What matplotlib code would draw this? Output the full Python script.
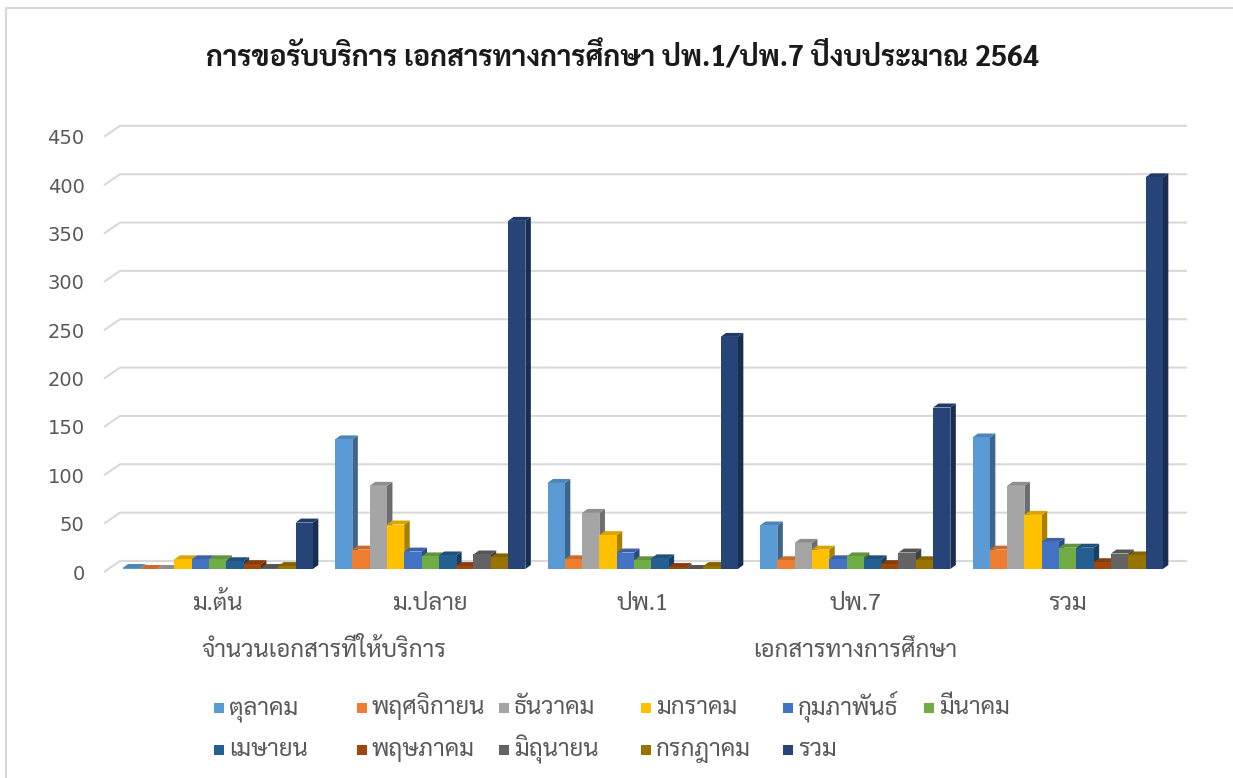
import matplotlib
matplotlib.use('Agg')
import matplotlib.pyplot as plt
from matplotlib import font_manager
from matplotlib.patches import Rectangle
import matplotlib.transforms as mtransforms
import numpy as np

# data
categories = ['ม.ต้น', 'ม.ปลาย', 'ปพ.1', 'ปพ.7', 'รวม']
group_labels = ['จำนวนเอกสารที่ให้บริการ', 'เอกสารทางการศึกษา']
group_span = [(0, 1), (2, 4)]
months = ['ตุลาคม', 'พฤศจิกายน', 'ธันวาคม', 'มกราคม', 'กุมภาพันธ์', 'มีนาคม',
          'เมษายน', 'พฤษภาคม', 'มิถุนายน', 'กรกฎาคม', 'รวม']
oct_ = [1, 134, 89, 45, 136]
nov = [0, 20, 10, 9, 20]
dec = [0, 86, 58, 27, 86]
jan = [10, 46, 35, 20, 56]
feb = [10, 18, 17, 10, 28]
mar = [10, 13, 9, 13, 22]
apr = [8, 14, 11, 10, 22]
may = [5, 3, 2, 5, 7]
jun = [1, 15, 0, 17, 16]
jul = [3, 12, 3, 9, 14]
total = [48, 360, 240, 167, 405]
series = [oct_, nov, dec, jan, feb, mar, apr, may, jun, jul, total]
colors = ['#5B9BD5', '#ED7D31', '#A5A5A5', '#FFC000', '#4472C4', '#70AD47',
          '#255E91', '#9E480E', '#636363', '#997300', '#264478']
yticks = list(range(0, 451, 50))
title = 'การขอรับบริการ เอกสารทางการศึกษา ปพ.1/ปพ.7 ปีงบประมาณ 2564'

# fonts: pick an installed Thai family, preferring one with a bold face
bold_fams = {f.name for f in font_manager.fontManager.ttflist if f.weight in (700, 'bold')}
all_fams = {f.name for f in font_manager.fontManager.ttflist}
prefs = ['Tahoma', 'Leelawadee UI', 'Sarabun', 'IBM Plex Sans Thai Looped', 'Noto Sans Thai Looped',
         'IBM Plex Sans Thai', 'Noto Sans Thai', 'Anuphan', 'Bai Jamjuree']
thai = next((n for n in prefs if n in bold_fams), None) or next((n for n in prefs if n in all_fams), 'DejaVu Sans')
plt.rcParams['font.family'] = [thai, 'DejaVu Sans']

W, H = 1233, 778
fig = plt.figure(figsize=(W / 100, H / 100), dpi=100)
rend = fig.canvas.get_renderer()

# pixel geometry of the plot area
px_group = 212.5          # px per category
px_unit = 0.967           # px per value unit
x_left, y_base = 104, 569
xlim = (-0.535, 4.6)
ylim = (-10, 465)
ax_l = x_left
ax_r = x_left + (xlim[1] - xlim[0]) * px_group
ax_b = y_base - ylim[0] * px_unit
ax_t = y_base - ylim[1] * px_unit
ax = fig.add_axes([ax_l / W, 1 - ax_b / H, (ax_r - ax_l) / W, (ax_b - ax_t) / H])
ax.set_xlim(*xlim)
ax.set_ylim(*ylim)
for s in ax.spines.values():
    s.set_visible(False)
ax.patch.set_alpha(0)

# back wall gridlines with the little floor diagonal on the left
back_dx = 16 / px_group
back_dy = 8.3
front_dy = -3.1
x_end = xlim[0] + (1187 - x_left) / px_group
for v in yticks:
    ax.plot([xlim[0], xlim[0] + back_dx, x_end], [v + front_dy, v + back_dy, v + back_dy],
            color='#d9d9d9', lw=1.5, zorder=1, clip_on=False, solid_capstyle='butt')


def shade(c, f):
    r, g, b = matplotlib.colors.to_rgb(c)
    return (r * f, g * f, b * f)


# pseudo 3D columns
w = 17.3 / px_group
dx = 5.5 / px_group
dy = 4 / px_unit
n = len(series)
xs = np.arange(len(categories))
for j, (vals, c) in enumerate(zip(series, colors)):
    x0s = xs + (j - n / 2) * w
    z = 3 + 3 * j
    for x0, h in zip(x0s, vals):
        x1 = x0 + w
        ax.fill([x1, x1 + dx, x1 + dx, x1], [0, dy, h + dy, h], color=shade(c, 0.66), lw=0, zorder=z)
        ax.fill([x0, x0 + dx, x1 + dx, x1], [h, h + dy, h + dy, h], color=shade(c, 0.86), lw=0, zorder=z + 1)
    ax.bar(x0s, vals, width=w, align='edge', color=c, lw=0, zorder=z + 2)

# y ticks (latin digits, Verdana-like)
ax.set_yticks(yticks)
ax.set_yticklabels([str(v) for v in yticks], fontfamily='DejaVu Sans')
ax.tick_params(axis='y', length=0, pad=14, labelsize=14, labelcolor='#595959')
off = mtransforms.ScaledTranslation(0, -3 / 100, fig.dpi_scale_trans)
for lab in ax.get_yticklabels():
    lab.set_transform(lab.get_transform() + off)
ax.set_xticks([])


def fit_width(t, target_px):
    wpx = t.get_window_extent(rend).width
    t.set_fontsize(t.get_fontsize() * target_px / wpx)
    return t.get_fontsize()


# group labels, the first one sets the size of all thai axis / legend text
bt = mtransforms.blended_transform_factory(ax.transData, fig.transFigure)
glabs = [ax.text((a + b) / 2, 1 - 651 / H, lab, transform=bt, ha='center', va='baseline',
                 fontsize=14, color='#595959') for lab, (a, b) in zip(group_labels, group_span)]
fs = fit_width(glabs[0], 246)
glabs[1].set_fontsize(fs)
half_x = 0.25 * fs * 100 / 72     # roughly half the thai x-height in px
for g in glabs:
    g.set_y(1 - (651 + half_x) / H)

for i, cat in enumerate(categories):
    ax.text(i, 1 - (604 + half_x) / H, cat, transform=bt, ha='center', va='baseline',
            fontsize=fs, color='#595959')

# title
tt = fig.text(622 / W, 1 - 58 / H, title, ha='center', va='center', fontsize=17,
              fontweight='bold', color='#1a1a1a')
fit_width(tt, 835)

# legend (uniform columns like the original)
leg_x = [214, 357, 499, 641, 783, 924]
leg_y = [708, 750]
for k, (name, c) in enumerate(zip(months, colors)):
    r, col = divmod(k, 6)
    px, py = leg_x[col], leg_y[r]
    fig.patches.append(Rectangle((px / W, 1 - (py + 5) / H), 10 / W, 10 / H,
                                 transform=fig.transFigure, color=c, lw=0))
    fig.text((px + 15) / W, 1 - (py + half_x) / H, name, ha='left', va='baseline',
             fontsize=fs, color='#595959')

# chart border
fig.patches.append(Rectangle((6 / W, -0.05), 1.1, 1 - 8 / H + 0.05, transform=fig.transFigure,
                             fill=False, edgecolor='#d9d9d9', lw=1.5))

fig.savefig('out.png', dpi=100)
